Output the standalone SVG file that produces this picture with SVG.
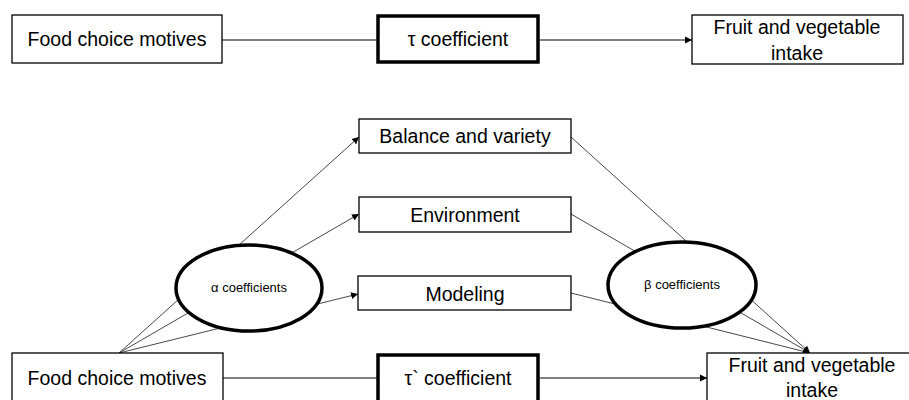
<svg xmlns="http://www.w3.org/2000/svg" width="909" height="400" viewBox="0 0 909 400">
<defs>
<marker id="arr" markerWidth="8" markerHeight="8" refX="7" refY="4" orient="auto" markerUnits="userSpaceOnUse">
<path d="M0,0.5 L7,4 L0,7.5 Z" fill="#000"/>
</marker>
<style>
.box{fill:#fff;stroke:#000;stroke-width:1.3}
.thick{fill:#fff;stroke:#000;stroke-width:3.5}
.ell{fill:#fff;stroke:#000;stroke-width:3.5}
.t{font-family:"Liberation Sans",Arial,sans-serif;font-size:19.5px;fill:#000;text-anchor:middle}
.s{font-family:"Liberation Sans",Arial,sans-serif;font-size:13px;fill:#000;text-anchor:middle}
.ln{stroke:#000;stroke-width:1.2;fill:none}
.th{stroke:#333;stroke-width:0.9;fill:none}
</style>
</defs>
<rect width="909" height="400" fill="#fff"/>
<g id="connectors">
<line class="ln" x1="222" y1="40" x2="378" y2="40"/>
<line class="ln" x1="540" y1="40" x2="692" y2="40" marker-end="url(#arr)"/>
<line class="th" x1="119" y1="353" x2="359" y2="137" marker-end="url(#arr)"/>
<line class="th" x1="119" y1="353" x2="359" y2="214" marker-end="url(#arr)"/>
<line class="th" x1="119" y1="353" x2="358" y2="294" marker-end="url(#arr)"/>
<line class="th" x1="571" y1="137" x2="810" y2="353" marker-end="url(#arr)"/>
<line class="th" x1="571" y1="214" x2="810" y2="353" marker-end="url(#arr)"/>
<line class="th" x1="571" y1="293" x2="810" y2="353" marker-end="url(#arr)"/>
<line class="ln" x1="223" y1="378" x2="378" y2="378"/>
<line class="ln" x1="540" y1="378" x2="707" y2="378" marker-end="url(#arr)"/>
</g>
<g id="food1">
<rect class="box" x="12" y="15" width="210" height="48"/>
<text class="t" x="117" y="46">Food choice motives</text>
</g>
<g id="tau1">
<rect class="thick" x="378" y="16" width="160" height="46"/>
<text class="t" x="458" y="46">τ coefficient</text>
</g>
<g id="fruit1">
<rect class="box" x="692" y="15" width="211" height="49"/>
<text class="t" x="797" y="34">Fruit and vegetable</text>
<text class="t" x="797" y="60">intake</text>
</g>
<g id="balance">
<rect class="box" x="359" y="119" width="212" height="34"/>
<text class="t" x="465" y="143">Balance and variety</text>
</g>
<g id="environment">
<rect class="box" x="359" y="197" width="212" height="35"/>
<text class="t" x="465" y="222">Environment</text>
</g>
<g id="modeling">
<rect class="box" x="358" y="276" width="213" height="34"/>
<text class="t" x="465" y="301">Modeling</text>
</g>
<g id="alpha">
<ellipse class="ell" cx="249" cy="288" rx="73" ry="43"/>
<text class="s" x="249" y="292">α coefficients</text>
</g>
<g id="beta">
<ellipse class="ell" cx="682" cy="285" rx="74" ry="43"/>
<text class="s" x="682" y="289">β coefficients</text>
</g>
<g id="food2">
<rect class="box" x="12" y="353" width="211" height="50"/>
<text class="t" x="117" y="385">Food choice motives</text>
</g>
<g id="tau2">
<rect class="thick" x="378" y="355" width="160" height="50"/>
<text class="t" x="458" y="385">τ` coefficient</text>
</g>
<g id="fruit2">
<rect class="box" x="707" y="353" width="211" height="50"/>
<text class="t" x="812" y="372">Fruit and vegetable</text>
<text class="t" x="812" y="397">intake</text>
</g>
</svg>
